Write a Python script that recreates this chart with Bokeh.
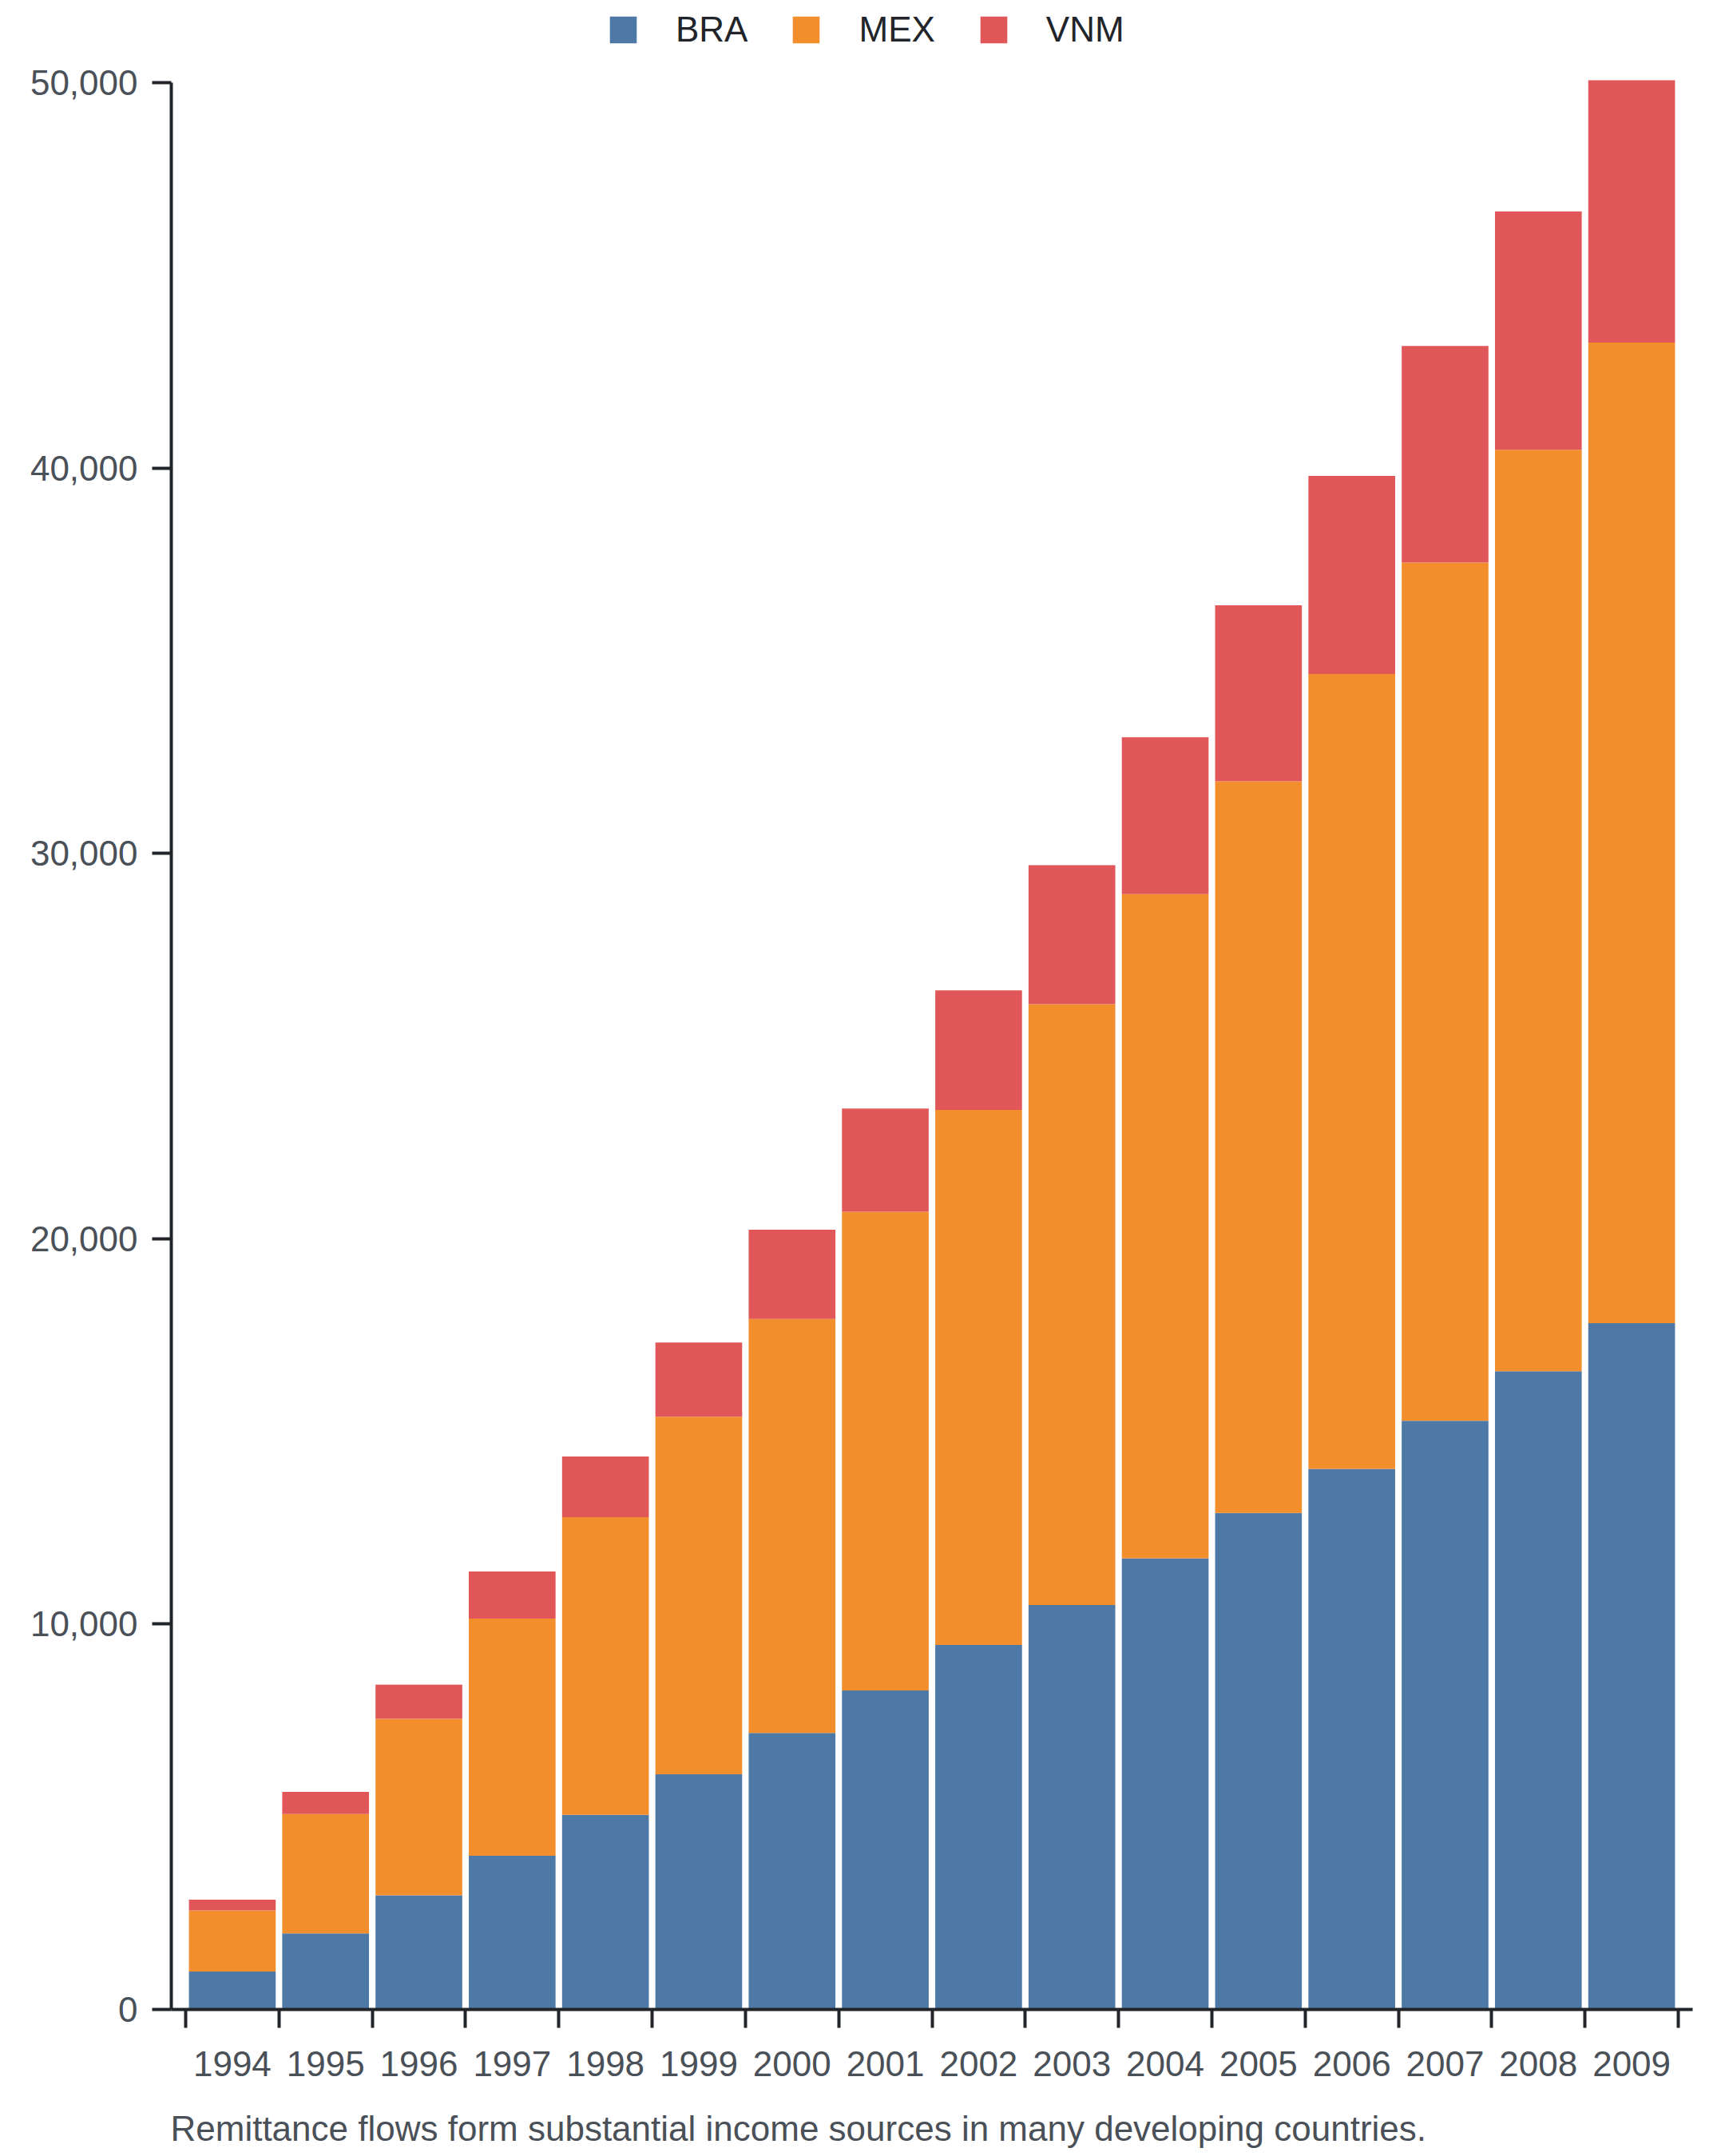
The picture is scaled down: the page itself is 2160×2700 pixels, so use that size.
from bokeh.plotting import figure
from bokeh.layouts import column
from bokeh.models import (ColumnDataSource, Range1d, FixedTicker, NumeralTickFormatter,
                          Legend, LegendItem, Label)
from bokeh.embed import file_html
from bokeh.resources import INLINE

years = [1994, 1995, 1996, 1997, 1998, 1999, 2000, 2001,
         2002, 2003, 2004, 2005, 2006, 2007, 2008, 2009]
series = ["BRA", "MEX", "VNM"]
bra = [982, 1972, 2965, 3989, 5050, 6103, 7174, 8280,
       9458, 10493, 11706, 12884, 14026, 15275, 16560, 17809]
mex = [1589, 3098, 4579, 6153, 7727, 9279, 10742, 12420,
       13883, 15596, 17238, 18986, 20628, 22270, 23911, 25448]
vnm = [280, 574, 885, 1221, 1570, 1927, 2320, 2677,
       3105, 3604, 4068, 4568, 5139, 5621, 6190, 6805]
colors = ["#4e79a7", "#f28e2b", "#e15759"]
y_ticks = [0, 10000, 20000, 30000, 40000, 50000]
y_max = 50000
caption = "Remittance flows form substantial income sources in many developing countries."

FONT = "Liberation Sans"
LABEL_COLOR = "#4a5058"
AXIS_COLOR = "#212529"

# layout in pixels
W = 2152
H1, H2 = 2610, 90
LEFT, RIGHT = 214, 2119
FRAME_TOP, AXIS_TOP, BOTTOM = 8, 103, 2516
CAPTION_Y = 35          # caption baseline, pixels above the caption strip's bottom
LEGEND_BOTTOM = 62      # legend bottom, pixels from top of page
y_end = y_max * (BOTTOM - FRAME_TOP) / (BOTTOM - AXIS_TOP)  # frame extends above the axis for the legend

source = ColumnDataSource(dict(year=years, BRA=bra, MEX=mex, VNM=vnm))

pad = 0.154
p = figure(width=W, height=H1, output_backend="svg", toolbar_location=None,
           x_range=Range1d(years[0] - 0.5 - pad, years[-1] + 0.5 + pad),
           y_range=Range1d(0, y_end),
           min_border_left=LEFT, min_border_right=W - RIGHT,
           min_border_top=FRAME_TOP, min_border_bottom=H1 - BOTTOM)
p.outline_line_color = None
p.grid.visible = False
p.background_fill_color = "white"

renderers = p.vbar_stack(series, x="year", width=0.93, source=source,
                         color=colors, line_color=None)

# x axis: labels at band centres, ticks at band edges
xa = p.xaxis[0]
xa.ticker = FixedTicker(ticks=years, minor_ticks=[y - 0.5 for y in years] + [years[-1] + 0.5])
xa.major_label_overrides = {y: str(y) for y in years}
xa.major_tick_line_color = None
xa.major_tick_out = 0
xa.major_tick_in = 0
xa.minor_tick_out = 23
xa.minor_tick_in = 0
xa.minor_tick_line_width = 4
xa.minor_tick_line_color = AXIS_COLOR
xa.axis_line_width = 4
xa.axis_line_color = AXIS_COLOR
xa.major_label_standoff = 29
xa.major_label_text_font = FONT
xa.major_label_text_font_size = "44px"
xa.major_label_text_color = LABEL_COLOR

ya = p.yaxis[0]
ya.bounds = (0, y_max)
ya.ticker = FixedTicker(ticks=y_ticks, minor_ticks=[])
ya.formatter = NumeralTickFormatter(format="0,0")
ya.major_tick_out = 24
ya.major_tick_in = 0
ya.major_tick_line_width = 4
ya.major_tick_line_color = AXIS_COLOR
ya.minor_tick_line_color = None
ya.axis_line_width = 4
ya.axis_line_color = AXIS_COLOR
ya.major_label_standoff = 18
ya.major_label_text_font = FONT
ya.major_label_text_font_size = "44px"
ya.major_label_text_color = LABEL_COLOR

legend = Legend(items=[LegendItem(label=s, renderers=[r]) for s, r in zip(series, renderers)],
                orientation="horizontal", location=(545, BOTTOM - LEGEND_BOTTOM),
                glyph_width=42, glyph_height=42, label_height=42,
                label_standoff=45, spacing=52,
                padding=0, margin=0, border_line_color=None, background_fill_alpha=0,
                label_text_font=FONT, label_text_font_size="44px",
                label_text_color=AXIS_COLOR)
p.add_layout(legend)

# caption strip below the chart; its frame is aligned with the chart's frame,
# so its x range is expressed in page pixels from LEFT to RIGHT
cap = figure(width=W, height=H2, output_backend="svg", toolbar_location=None,
             x_range=Range1d(LEFT, RIGHT), y_range=Range1d(0, H2),
             x_axis_type=None, y_axis_type=None,
             min_border_left=LEFT, min_border_right=W - RIGHT,
             min_border_top=0, min_border_bottom=0)
cap.outline_line_color = None
cap.grid.visible = False
cap.add_layout(Label(x=LEFT - 1, y=CAPTION_Y, text=caption,
                     text_font=FONT, text_font_size="44px", text_color=LABEL_COLOR,
                     text_baseline="alphabetic", text_align="left"))

open("out.html", "w").write(file_html(column(p, cap, spacing=0), INLINE))
